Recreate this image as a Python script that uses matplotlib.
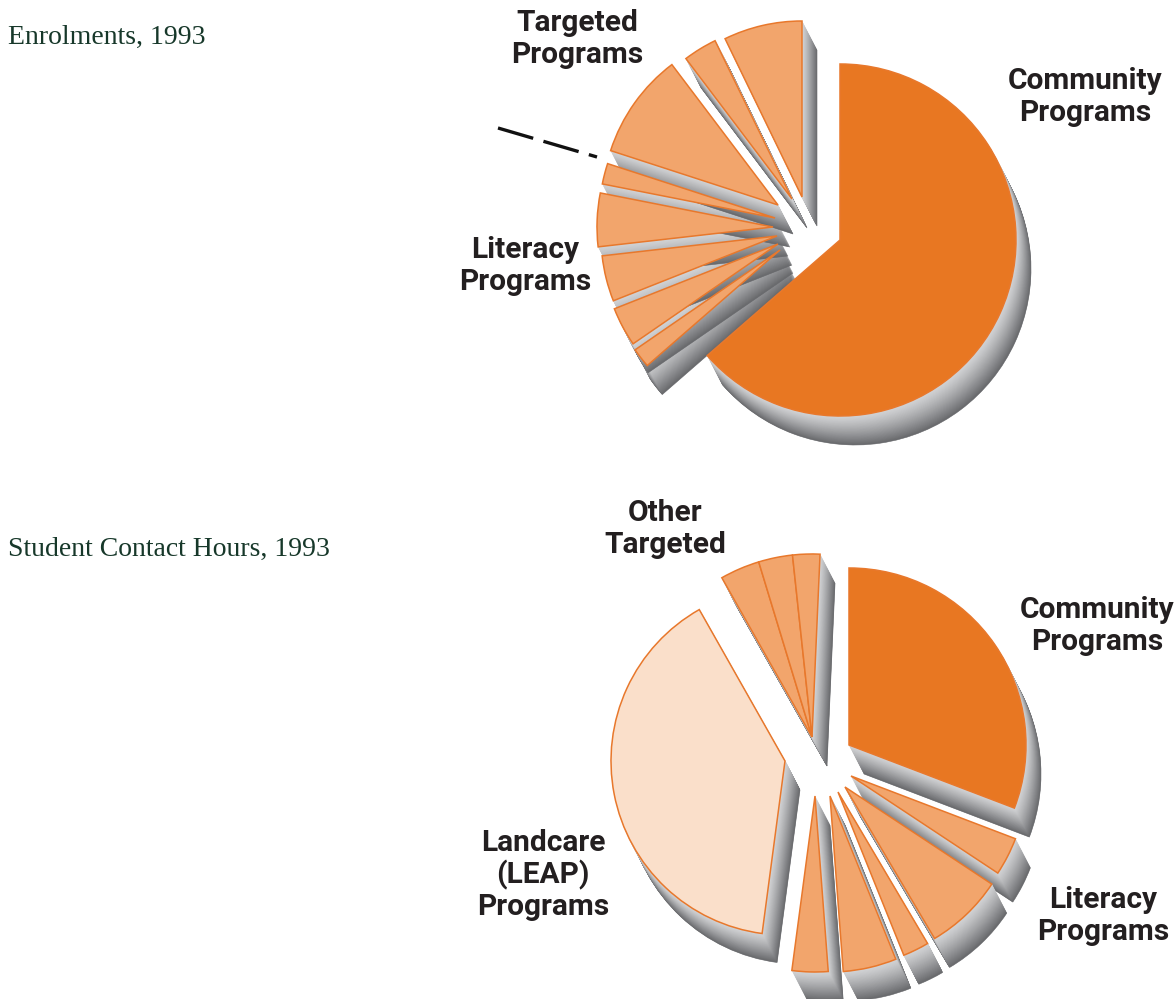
import matplotlib
matplotlib.use("Agg")
import matplotlib.pyplot as plt
import numpy as np
from matplotlib.colors import to_rgb
from matplotlib.patches import Wedge

# Shares in percent, clockwise from 12 o'clock
ENROL_NAMES = ["Community", "Literacy 1", "Literacy 2", "Literacy 3", "Literacy 4",
               "Literacy 5", "Targeted 1", "Targeted 2", "Targeted 3"]
ENROL_SHARE = [63.6, 1.8, 3.6, 4.2, 4.9, 1.9, 9.7, 3.1, 7.2]

HOURS_NAMES = ["Community", "Literacy 1", "Literacy 2", "Literacy 3", "Literacy 4",
               "Literacy 5", "Landcare", "Other 1", "Other 2", "Other 3"]
HOURS_SHARE = [30.8, 3.5, 7.2, 2.4, 4.9, 3.3, 39.7, 3.5, 3.0, 2.4]

DARK = "#e87722"
MID = "#f2a56c"
PALE = "#fadfca"
EDGE = "#e8782c"
SHADE_NEAR = "#d3d4d6"
SHADE_FAR = "#68696c"
TEXT = "#231f20"
TITLE = "#17382a"

# Layout: pie centres in pixels, then how far each slice is pulled out of the pie
ENROL_CENTRE = (840, 240)
ENROL_PULL = [(0, 0), (-60, 10), (-62, 4), (-63, -4), (-67, -13),
              (-65, -22), (-62, -35), (-48, -41), (-38, -43)]
ENROL_RADII = [176] * 9
ENROL_COLORS = [DARK] + [MID] * 8

HOURS_CENTRE = (849, 745)
HOURS_PULL = [(0, 0), (2, 31), (-4, 42), (-11, 47), (-19, 51),
              (-34, 51), (-64, 16), (-37, -8), (-37, -8), (-37, -8)]
HOURS_RADII = [177, 176, 176, 176, 176, 176, 174, 183, 183, 183]
HOURS_COLORS = [DARK] + [MID] * 5 + [PALE] + [MID] * 3

DEPTH = (15, 29)
STEPS = 40


def draw_pie(ax, shares, centre, pulls, radii, colors):
    edges = np.cumsum([0] + shares) * 3.6 - 90
    near = np.array(to_rgb(SHADE_NEAR))
    far = np.array(to_rgb(SHADE_FAR))

    # extruded sides first so every face sits on top of them
    for i in range(len(shares)):
        x = centre[0] + pulls[i][0]
        y = centre[1] + pulls[i][1]
        for k in range(STEPS, 0, -1):
            t = k / STEPS
            shade = near + (far - near) * t ** 1.2
            ax.add_patch(Wedge((x + DEPTH[0] * t, y + DEPTH[1] * t), radii[i],
                               edges[i], edges[i + 1], fc=shade, ec=shade,
                               lw=0.4, zorder=2))

    for i in range(len(shares)):
        x = centre[0] + pulls[i][0]
        y = centre[1] + pulls[i][1]
        ax.add_patch(Wedge((x, y), radii[i], edges[i], edges[i + 1],
                           fc=colors[i], ec=EDGE, lw=1.1, zorder=3))


def label(ax, x, y, lines):
    for i, line in enumerate(lines):
        ax.text(x, y + i * 32, line, ha="center", va="center", color=TEXT,
                fontsize=21.5, fontweight="bold",
                family=["Liberation Sans Narrow", "Roboto", "DejaVu Sans"])


fig = plt.figure(figsize=(11.74, 9.99), dpi=100)
ax = fig.add_axes([0, 0, 1, 1])
ax.set_xlim(0, 1174)
ax.set_ylim(999, 0)
ax.axis("off")

draw_pie(ax, ENROL_SHARE, ENROL_CENTRE, ENROL_PULL, ENROL_RADII, ENROL_COLORS)
draw_pie(ax, HOURS_SHARE, HOURS_CENTRE, HOURS_PULL, HOURS_RADII, HOURS_COLORS)

ax.plot([498, 597], [128, 157], color="#111111", lw=2.4,
        linestyle=(0, (11, 3.2)), zorder=4)

label(ax, 577, 23, ["Targeted", "Programs"])
label(ax, 1085, 81, ["Community", "Programs"])
label(ax, 525, 250, ["Literacy", "Programs"])
label(ax, 665, 513, ["Other", "Targeted"])
label(ax, 1097, 610, ["Community", "Programs"])
label(ax, 543, 843, ["Landcare", "(LEAP)", "Programs"])
label(ax, 1103, 900, ["Literacy", "Programs"])

for y, title in [(37, "Enrolments, 1993"), (549, "Student Contact Hours, 1993")]:
    ax.text(8, y, title, ha="left", va="center", color=TITLE, fontsize=20,
            family=["Liberation Serif", "DejaVu Serif"])

fig.savefig("out.png", dpi=100)
plt.close(fig)
